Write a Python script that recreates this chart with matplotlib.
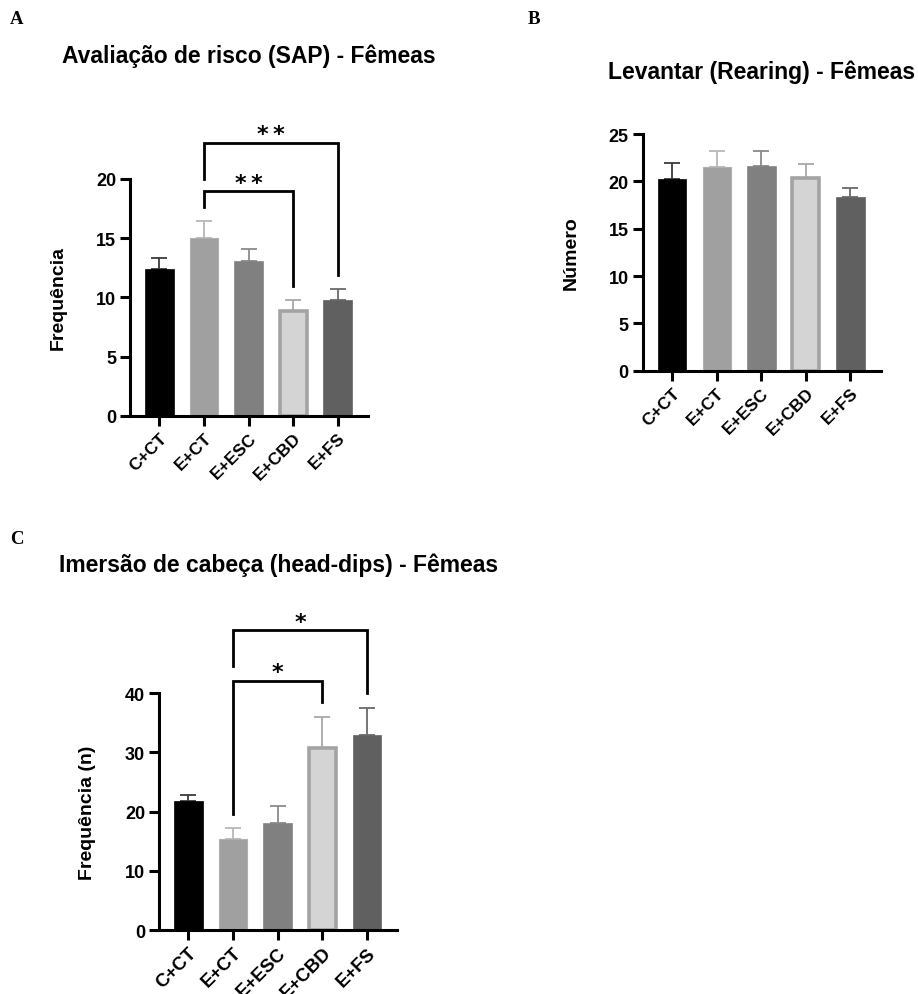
#!/usr/bin/env python3
#
# Female behaviour panels: SAP, rearing, head-dips
#
import matplotlib
matplotlib.use('Agg')
import matplotlib.pyplot as plt
import numpy as np

plt.rcParams['font.family'] = ['Liberation Sans', 'DejaVu Sans']
plt.rcParams['font.weight'] = 'bold'

groups = ['C+CT', 'E+CT', 'E+ESC', 'E+CBD', 'E+FS']

# A: risk assessment (SAP)
sap_mean = [12.4, 15.0, 13.1, 8.85, 9.75]
sap_sem = [0.95, 1.45, 1.0, 0.95, 0.95]

# B: rearing
rear_mean = [20.3, 21.5, 21.6, 20.4, 18.3]
rear_sem = [1.65, 1.7, 1.6, 1.45, 1.05]

# C: head-dips
dips_mean = [21.7, 15.3, 18.1, 30.8, 32.9]
dips_sem = [1.15, 2.0, 2.85, 5.2, 4.5]

# bracket: (i, j, y bar, y left end, y right end, label)
sap_sig = [(1, 3, 18.95, 17.6, 11.0, '**'),
           (1, 4, 23.05, 20.0, 11.85, '**')]
dips_sig = [(1, 3, 42.1, 19.6, 38.4, '*'),
            (1, 4, 50.6, 44.6, 40.0, '*')]

fills = ['#000000', '#a0a0a0', '#808080', '#d4d4d4', '#606060']
edges = ['#000000', '#b0b0b0', '#858585', '#a3a3a3', '#646464']
elines = ['#3a3a3a', '#b8b8b8', '#8a8a8a', '#a8a8a8', '#6a6a6a']
ewidth = [0.5, 0.8, 0.5, 2.6, 0.5]

fig = plt.figure(figsize=(9.18, 9.95), dpi=100)

axA = fig.add_axes([0.1416, 0.5812, 0.2593, 0.2379])
axB = fig.add_axes([0.7001, 0.6264, 0.2593, 0.2379])
axC = fig.add_axes([0.1732, 0.0643, 0.2596, 0.2382])


def panel(ax, mean, sem, ymax, step, ylabel, title, tx, ty, xls=12.5):
    x = np.arange(len(groups))
    w = 0.65
    for k in range(len(groups)):
        lw = ewidth[k]
        # shrink bar so the outer edge keeps the same width
        ww = w - lw * 0.75 / 44.5
        ax.bar(x[k], mean[k], width=ww, color=fills[k], edgecolor=edges[k],
               linewidth=lw, zorder=2)
        ax.errorbar(x[k], mean[k], yerr=[[0], [sem[k]]], fmt='none',
                    ecolor=elines[k], elinewidth=1.3, capsize=6,
                    capthick=1.3, zorder=1)
    ax.set_xlim(-0.66, 4.68)
    ax.set_ylim(0, ymax)
    ax.set_yticks(np.arange(0, ymax + 0.1, step))
    ax.set_xticks(x)
    ax.set_xticklabels(groups, rotation=45, ha='right', va='top',
                       rotation_mode='anchor', fontsize=xls)
    for s in ('top', 'right'):
        ax.spines[s].set_visible(False)
    for s in ('left', 'bottom'):
        ax.spines[s].set_linewidth(2.2)
    ax.tick_params(width=2.2, length=7, pad=3)
    ax.tick_params(axis='y', labelsize=13)
    ax.set_ylabel(ylabel, fontsize=14, fontweight='bold', labelpad=21)
    fig.text(tx, ty, title, fontsize=16.5, fontweight='bold', ha='left',
             va='center')


def brackets(ax, sig):
    for i, j, yb, yl, yr, lab in sig:
        ax.plot([i, i, j, j], [yl, yb, yb, yr], color='black', lw=2.0,
                clip_on=False, solid_joinstyle='miter', zorder=3)
        ax.annotate(lab.replace('**', '*\u2009*'), xy=((i + j) / 2, yb),
                    xytext=(0, -1), textcoords='offset points',
                    ha='center', va='bottom', family='DejaVu Sans',
                    fontsize=16, fontweight='bold', annotation_clip=False)


panel(axA, sap_mean, sap_sem, 20, 5, 'Frequência',
      'Avaliação de risco (SAP) - Fêmeas', 62 / 918, 1 - 56 / 995)
brackets(axA, sap_sig)

panel(axB, rear_mean, rear_sem, 25, 5, 'Número',
      'Levantar (Rearing) - Fêmeas', 608 / 918, 1 - 72 / 995)

panel(axC, dips_mean, dips_sem, 40, 10, 'Frequência (n)',
      'Imersão de cabeça (head-dips) - Fêmeas', 59 / 918, 1 - 565 / 995,
      xls=13.5)
brackets(axC, dips_sig)

# panel letters
for lab, lx, ly in [('A', 10, 20), ('B', 528, 20), ('C', 10, 540)]:
    fig.text(lx / 918, 1 - ly / 995, lab, family='Liberation Serif',
             fontsize=13.5, fontweight='bold', ha='left', va='center')

fig.savefig('out.png', dpi=100)
